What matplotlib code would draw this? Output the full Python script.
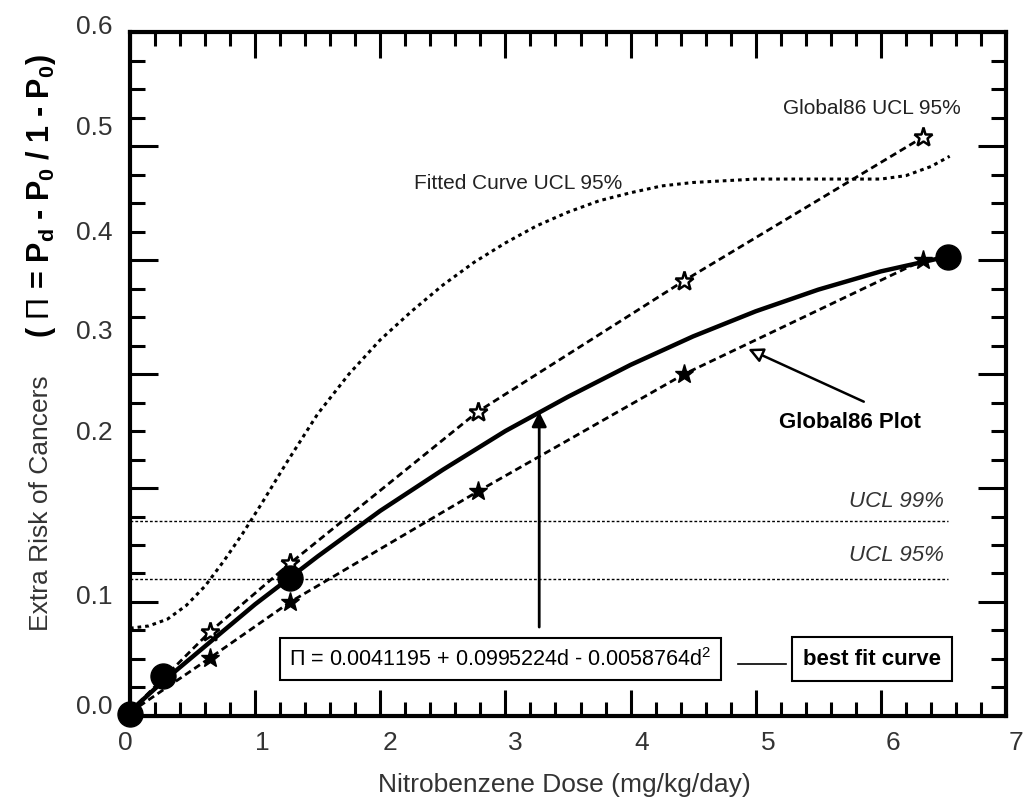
import numpy as np
import matplotlib
matplotlib.use("Agg")
import matplotlib.pyplot as plt
from matplotlib.transforms import blended_transform_factory

plt.rcParams['font.family'] = ['Liberation Sans', 'DejaVu Sans']
plt.rcParams['mathtext.fontset'] = 'custom'
plt.rcParams['mathtext.rm'] = 'Liberation Sans'
plt.rcParams['mathtext.bf'] = 'Liberation Sans:bold'
plt.rcParams['mathtext.it'] = 'Liberation Sans:italic'

# best fit curve (Global86)
fit_dose = [0.0, 0.25, 0.5, 0.75, 1.0, 1.25, 1.5, 2.0, 2.5, 3.0, 3.5, 4.0, 4.5, 5.0, 5.5, 6.0, 6.53]
fit_risk = [0.004, 0.029, 0.052, 0.075, 0.098, 0.119, 0.140, 0.180, 0.216, 0.250, 0.280, 0.308,
            0.333, 0.355, 0.374, 0.390, 0.403]

# big dots on the best fit curve
dot_dose = [0.0, 0.26, 1.28, 6.54]
dot_risk = [0.002, 0.035, 0.121, 0.403]

# Global86 UCL 95% (open stars) and lower bound (filled stars)
star_dose = [0.0, 0.64, 1.28, 2.78, 4.43, 6.34]
upper_risk = [0.004, 0.074, 0.134, 0.267, 0.382, 0.508]
lower_risk = [0.003, 0.051, 0.100, 0.197, 0.300, 0.400]

# fitted curve UCL 95%
ucl_dose = [0.0, 0.15, 0.3, 0.45, 0.6, 0.75, 0.9, 1.05, 1.25, 1.5, 1.75, 2.0, 2.25, 2.5, 2.75,
            3.0, 3.25, 3.5, 3.75, 4.0, 4.25, 4.5, 5.0, 5.5, 6.0, 6.2, 6.4, 6.55]
ucl_risk = [0.077, 0.079, 0.085, 0.097, 0.114, 0.136, 0.160, 0.186, 0.222, 0.265, 0.300, 0.330,
            0.355, 0.378, 0.398, 0.415, 0.430, 0.442, 0.452, 0.459, 0.465, 0.468, 0.471, 0.471,
            0.471, 0.474, 0.482, 0.491]

# horizontal control limits
ucl99 = 0.171
ucl95 = 0.120

# tick labels (placed where the original drew them)
xlabels = ['0', '1', '2', '3', '4', '5', '6', '7']
xlabel_pos = [-0.04, 1.06, 2.08, 3.08, 4.09, 5.10, 6.10, 7.08]
ylabels = ['0.0', '0.1', '0.2', '0.3', '0.4', '0.5', '0.6']
ylabel_pos = [0.009, 0.105, 0.249, 0.338, 0.425, 0.517, 0.605]

fig = plt.figure(figsize=(10.26, 8.03), dpi=100)
ax = fig.add_axes([0.1267, 0.1071, 0.8538, 0.8518])
ax.set_xlim(0, 7)
ax.set_ylim(0, 0.6)

ax.plot(ucl_dose, ucl_risk, color='black', lw=2.2, dashes=(1.2, 1.3))
ax.plot(star_dose, upper_risk, color='black', lw=2, dashes=(2.5, 1.5),
        marker='*', ms=14, mfc='white', mec='black', mew=1.8, clip_on=False)
ax.plot(star_dose, lower_risk, color='black', lw=2, dashes=(2.5, 1.5),
        marker='*', ms=14, mfc='black', mec='black', clip_on=False)
ax.plot(fit_dose, fit_risk, color='black', lw=3.2, solid_capstyle='round')
ax.plot(dot_dose, dot_risk, ls='none', marker='o', ms=18, color='black', clip_on=False, zorder=5)

ax.plot([0, 6.54], [ucl99, ucl99], color='black', lw=1, dashes=(2, 1.5))
ax.plot([0, 6.54], [ucl95, ucl95], color='black', lw=1, dashes=(2, 1.5))

ax.text(6.50, 0.189, 'UCL 99%', style='italic', fontsize=16, ha='right', va='center', color='#333333')
ax.text(6.50, 0.142, 'UCL 95%', style='italic', fontsize=16, ha='right', va='center', color='#333333')
ax.text(5.93, 0.534, 'Global86 UCL 95%', fontsize=15, ha='center', va='center', color='#222222')
ax.text(3.10, 0.468, 'Fitted Curve UCL 95%', fontsize=15, ha='center', va='center', color='#222222')

ax.annotate('Global86 Plot', xy=(4.94, 0.322), xytext=(5.75, 0.258),
            fontsize=16, fontweight='bold', ha='center', va='center',
            arrowprops=dict(arrowstyle='-|>', fc='white', ec='black', lw=1.8,
                            mutation_scale=22, shrinkA=12, shrinkB=0,
                            relpos=(0.75, 1.0)))

ax.annotate('', xy=(3.27, 0.267), xytext=(3.27, 0.078),
            arrowprops=dict(arrowstyle='-|>', fc='black', ec='black', lw=2,
                            mutation_scale=22, shrinkA=0, shrinkB=0))

ax.text(2.96, 0.050, r'$\Pi$ = 0.0041195 + 0.0995224d - 0.0058764d$^2$', fontsize=15.5,
        ha='center', va='center',
        bbox=dict(boxstyle='square,pad=0.45', fc='white', ec='black', lw=1.5))
ax.text(5.93, 0.050, 'best fit curve', fontsize=16, fontweight='bold', ha='center', va='center',
        bbox=dict(boxstyle='square,pad=0.5', fc='white', ec='black', lw=1.5))
ax.plot([4.86, 5.24], [0.046, 0.046], color='black', lw=1.2)

# axis frame and ticks
for sp in ax.spines.values():
    sp.set_linewidth(3)
ax.set_xticks(range(8))
ax.set_xticks(np.arange(0, 7.01, 0.2), minor=True)
ax.set_yticks(np.arange(0, 0.61, 0.1))
ax.set_yticks(np.arange(0, 0.601, 0.025), minor=True)
ax.tick_params(which='both', direction='in', top=True, right=True,
               labelbottom=False, labelleft=False, width=2.2)
ax.tick_params(axis='x', which='major', length=19)
ax.tick_params(axis='x', which='minor', length=10)
ax.tick_params(axis='y', which='major', length=20)
ax.tick_params(axis='y', which='minor', length=11)

tx = blended_transform_factory(ax.transData, ax.transAxes)
for lab, pos in zip(xlabels, xlabel_pos):
    ax.text(pos, -0.038, lab, transform=tx, fontsize=19, ha='center', va='center', color='#333333')
ty = blended_transform_factory(ax.transAxes, ax.transData)
for lab, pos in zip(ylabels, ylabel_pos):
    ax.text(-0.02, pos, lab, transform=ty, fontsize=19, ha='right', va='center', color='#333333')

fig.text(0.55, 0.022, 'Nitrobenzene Dose (mg/kg/day)', fontsize=19, ha='center', va='center',
         color='#333333')
fig.text(0.040, 1 - 503 / 803, 'Extra Risk of Cancers', fontsize=19, rotation=90,
         ha='center', va='center', color='#333333')
fig.text(0.040, 1 - 196 / 803, r'( $\Pi$ = P$_\mathbf{d}$ - P$_\mathbf{0}$ / 1 - P$_\mathbf{0}$)',
         fontsize=22, fontweight='bold', rotation=90, ha='center', va='center')

fig.savefig('out.png', dpi=100)
